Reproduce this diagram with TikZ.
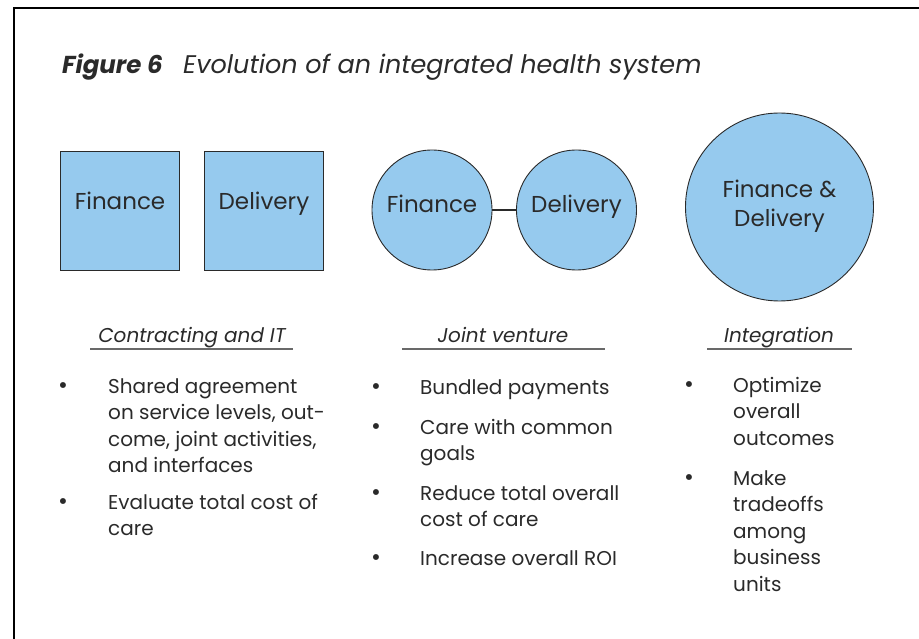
\documentclass[tikz,border=0pt]{standalone}
\usepackage{fontspec}
\setmainfont{Poppins}
\usetikzlibrary{positioning}

\definecolor{boxblue}{RGB}{150,202,238}
\definecolor{inkgray}{RGB}{42,42,42}
\definecolor{rulegray}{RGB}{105,105,105}

% multi-line nodes sit on the baseline of their last line
\tikzset{
  unit/.style = {draw=inkgray, line width=0.9pt, fill=boxblue, inner sep=0pt},
  sq/.style = {unit, rectangle, minimum size=119pt},
  rnd/.style = {unit, circle, minimum size=#1},
  tag/.style = {text=inkgray, inner sep=0pt, anchor=base, align=center,
                font=\fontsize{23}{29}\selectfont},
  head/.style = {text=inkgray, inner sep=0pt, anchor=base,
                 font=\fontsize{20}{24}\selectfont\itshape},
  dot/.style = {text=inkgray, inner sep=0pt, anchor=base,
                font=\fontsize{24}{26.5}\selectfont},
  item/.style = {text=inkgray, inner sep=0pt, anchor=base west, align=left,
                 font=\fontsize{20}{26.5}\selectfont},
  uline/.style = {draw=rulegray, line width=1.6pt}
}

\begin{document}
\begin{tikzpicture}[x=1pt, y=-1pt]
\useasboundingbox (0,0) rectangle (919,639);

% frame
\draw[line width=2.4pt, black] (14,639) -- (14,8) -- (919,8);

% title
\node[inner sep=0pt, anchor=base west, text=inkgray,
      font=\fontsize{24.5}{30}\selectfont\bfseries\itshape] (fig) at (62,74) {Figure 6};
\node[inner sep=0pt, anchor=base west, text=inkgray,
      font=\fontsize{25.5}{30}\selectfont\itshape] (ttl) at (183,74) {Evolution of an integrated health system};

% stage 1: separate boxes
\node[sq] (fin1) at (120,210.5) {};
\node[sq] (del1) at (264,210.5) {};
\node[tag] (fin1-t) at (120,210) {Finance};
\node[tag] (del1-t) at (264,210) {Delivery};

% stage 2: linked circles
\node[rnd=120pt] (fin2) at (432,210) {};
\node[rnd=120pt] (del2) at (576.5,210) {};
\draw[inkgray, line width=1.2pt] (fin2) -- (del2);
\node[tag] (fin2-t) at (432,213) {Finance};
\node[tag] (del2-t) at (576.5,213) {Delivery};

% stage 3: one circle
\node[rnd=188pt] (both) at (779.5,207) {};
\node[tag] (both-t) at (779.5,227) {Finance \&\\Delivery};

% headings
\node[head] (h1) at (192,342) {Contracting and IT};
\node[head] (h2) at (503,342) {Joint venture};
\node[head] (h3) at (779,342) {Integration};
\draw[uline] (90,349) -- (293,349);
\draw[uline] (402,349) -- (605,349);
\draw[uline] (707,349) -- (852,349);

% column 1
\node[dot] (d11) at (63,393) {\textbullet};
\node[item] (i11) at (108,472.5) {Shared agreement\\on service levels, out-\\come, joint activities,\\and interfaces};
\node[dot] (d12) at (63,509) {\textbullet};
\node[item] (i12) at (108,535.5) {Evaluate total cost of\\care};

% column 2
\node[dot] (d21) at (376,394) {\textbullet};
\node[item] (i21) at (420,394) {Bundled payments};
\node[dot] (d22) at (376,434) {\textbullet};
\node[item] (i22) at (420,460.5) {Care with common\\goals};
\node[dot] (d23) at (376,500) {\textbullet};
\node[item] (i23) at (420,526.5) {Reduce total overall\\cost of care};
\node[dot] (d24) at (376,565) {\textbullet};
\node[item] (i24) at (420,565) {Increase overall ROI};

% column 3
\node[dot] (d31) at (689,392) {\textbullet};
\node[item] (i31) at (733,445) {Optimize\\overall\\outcomes};
\node[dot] (d32) at (689,485) {\textbullet};
\node[item] (i32) at (733,591) {Make\\tradeoffs\\among\\business\\units};
\end{tikzpicture}
\end{document}
